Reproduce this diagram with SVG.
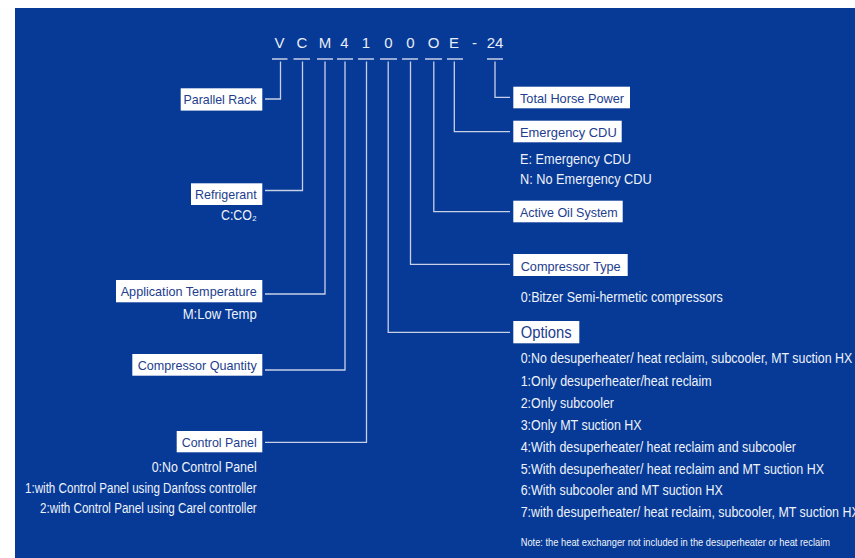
<svg xmlns="http://www.w3.org/2000/svg" width="855" height="558" viewBox="0 0 855 558">
<style>
.bg{fill:#063a96}
.ln{stroke:#c8d0e8;stroke-width:1.3;fill:none}
.us{stroke:#c8d0e8;stroke-width:1.5;fill:none}
.box{fill:#ffffff}
text{font-family:"Liberation Sans",Arial,sans-serif}
.code{font-size:15px;fill:#e8edf7;text-anchor:middle}
.lbl{font-size:13.5px;fill:#223d8e}
.big{font-size:16px;fill:#223d8e}
.sub{font-size:14px;fill:#eef2fa}
.note{font-size:10.5px;fill:#eef2fa}
</style>
<rect x="0" y="0" width="855" height="558" fill="#ffffff"/>
<rect class="bg" x="15" y="8" width="840" height="550"/>

<g id="code">
<text class="code" x="279.5" y="48">V</text>
<text class="code" x="302" y="48">C</text>
<text class="code" x="325" y="48">M</text>
<text class="code" x="344.5" y="48">4</text>
<text class="code" x="366" y="48">1</text>
<text class="code" x="388.5" y="48">0</text>
<text class="code" x="410.5" y="48">0</text>
<text class="code" x="433.5" y="48">O</text>
<text class="code" x="454" y="48">E</text>
<text class="code" x="474.5" y="48">-</text>
<text class="code" x="495" y="48">24</text>
<g class="us">
<line x1="272" y1="59" x2="287.5" y2="59"/>
<line x1="293.5" y1="59" x2="310" y2="59"/>
<line x1="317" y1="59" x2="333" y2="59"/>
<line x1="337" y1="59" x2="353" y2="59"/>
<line x1="358" y1="59" x2="374" y2="59"/>
<line x1="380" y1="59" x2="397" y2="59"/>
<line x1="402" y1="59" x2="418" y2="59"/>
<line x1="425" y1="59" x2="442" y2="59"/>
<line x1="447" y1="59" x2="463" y2="59"/>
<line x1="487" y1="59" x2="503" y2="59"/>
</g>
</g>

<g id="connectors" class="ln">
<polyline points="280.5,61.5 280.5,99 265,99"/>
<polyline points="302.5,61.5 302.5,190.5 265,190.5"/>
<polyline points="325,61.5 325,294 265,294"/>
<polyline points="345,61.5 345,370 265,370"/>
<polyline points="366.5,61.5 366.5,442.3 265,442.3"/>
<polyline points="388.2,61.5 388.2,332.4 510,332.4"/>
<polyline points="410.5,61.5 410.5,264.4 510,264.4"/>
<polyline points="433.8,61.5 433.8,211.6 510,211.6"/>
<polyline points="454.3,61.5 454.3,131.7 510,131.7"/>
<polyline points="495,61.5 495,97.4 510,97.4"/>
</g>

<g id="parallel-rack">
<rect class="box" x="180.7" y="88.3" width="81.6" height="22.3"/>
<text class="lbl" x="183.5" y="104" textLength="73" lengthAdjust="spacingAndGlyphs">Parallel Rack</text>
</g>
<g id="refrigerant">
<rect class="box" x="191" y="183.3" width="71.3" height="21.7"/>
<text class="lbl" x="195" y="199" textLength="61.7" lengthAdjust="spacingAndGlyphs">Refrigerant</text>
<text class="sub" x="221" y="220.3" textLength="35.7" lengthAdjust="spacingAndGlyphs">C:CO₂</text>
</g>
<g id="application-temperature">
<rect class="box" x="116" y="280" width="146.3" height="22.3"/>
<text class="lbl" x="120.7" y="296" textLength="136" lengthAdjust="spacingAndGlyphs">Application Temperature</text>
<text class="sub" x="182.7" y="318.6" textLength="74" lengthAdjust="spacingAndGlyphs">M:Low Temp</text>
</g>
<g id="compressor-quantity">
<rect class="box" x="132.3" y="354" width="130" height="21.7"/>
<text class="lbl" x="137.7" y="370" textLength="119" lengthAdjust="spacingAndGlyphs">Compressor Quantity</text>
</g>
<g id="control-panel">
<rect class="box" x="176.7" y="431" width="85.6" height="21.3"/>
<text class="lbl" x="181.7" y="446.5" textLength="75" lengthAdjust="spacingAndGlyphs">Control Panel</text>
<text class="sub" x="151.7" y="472" textLength="105" lengthAdjust="spacingAndGlyphs">0:No Control Panel</text>
<text class="sub" x="25" y="493" textLength="231.7" lengthAdjust="spacingAndGlyphs">1:with Control Panel using Danfoss controller</text>
<text class="sub" x="40" y="513" textLength="216.7" lengthAdjust="spacingAndGlyphs">2:with Control Panel using Carel controller</text>
</g>

<g id="total-horse-power">
<rect class="box" x="513.3" y="86.7" width="116.7" height="21.6"/>
<text class="lbl" x="520" y="102.5" textLength="104" lengthAdjust="spacingAndGlyphs">Total Horse Power</text>
</g>
<g id="emergency-cdu">
<rect class="box" x="513.3" y="120.7" width="108.4" height="21.6"/>
<text class="lbl" x="520" y="136.5" textLength="96.7" lengthAdjust="spacingAndGlyphs">Emergency CDU</text>
<text class="sub" x="520" y="163.6" textLength="111" lengthAdjust="spacingAndGlyphs">E: Emergency CDU</text>
<text class="sub" x="520" y="183.6" textLength="131.7" lengthAdjust="spacingAndGlyphs">N: No Emergency CDU</text>
</g>
<g id="active-oil-system">
<rect class="box" x="513.3" y="200.7" width="109.4" height="21.6"/>
<text class="lbl" x="520" y="216.5" textLength="97.7" lengthAdjust="spacingAndGlyphs">Active Oil System</text>
</g>
<g id="compressor-type">
<rect class="box" x="513.3" y="254" width="114.4" height="22"/>
<text class="lbl" x="520.7" y="270.8" textLength="100" lengthAdjust="spacingAndGlyphs">Compressor Type</text>
<text class="sub" x="520.7" y="302" textLength="202" lengthAdjust="spacingAndGlyphs">0:Bitzer Semi-hermetic compressors</text>
</g>
<g id="options">
<rect class="box" x="513.3" y="321" width="66" height="22.3"/>
<text class="big" x="520.7" y="338" textLength="51" lengthAdjust="spacingAndGlyphs">Options</text>
<text class="sub" x="520.7" y="363" textLength="331.5" lengthAdjust="spacingAndGlyphs">0:No desuperheater/ heat reclaim, subcooler, MT suction HX</text>
<text class="sub" x="520.7" y="385.7" textLength="191" lengthAdjust="spacingAndGlyphs">1:Only desuperheater/heat reclaim</text>
<text class="sub" x="520.7" y="407.7" textLength="93.3" lengthAdjust="spacingAndGlyphs">2:Only subcooler</text>
<text class="sub" x="520.7" y="429.5" textLength="121" lengthAdjust="spacingAndGlyphs">3:Only MT suction HX</text>
<text class="sub" x="520.7" y="451.7" textLength="275.3" lengthAdjust="spacingAndGlyphs">4:With desuperheater/ heat reclaim and subcooler</text>
<text class="sub" x="520.7" y="473.5" textLength="303.3" lengthAdjust="spacingAndGlyphs">5:With desuperheater/ heat reclaim and MT suction HX</text>
<text class="sub" x="520.7" y="495" textLength="202" lengthAdjust="spacingAndGlyphs">6:With subcooler and MT suction HX</text>
<text class="sub" x="520.7" y="517" textLength="339" lengthAdjust="spacingAndGlyphs">7:with desuperheater/ heat reclaim, subcooler, MT suction HX</text>
<text class="note" x="520.7" y="545.5" textLength="309.3" lengthAdjust="spacingAndGlyphs">Note: the heat exchanger not included in the desuperheater or heat reclaim</text>
</g>
</svg>
